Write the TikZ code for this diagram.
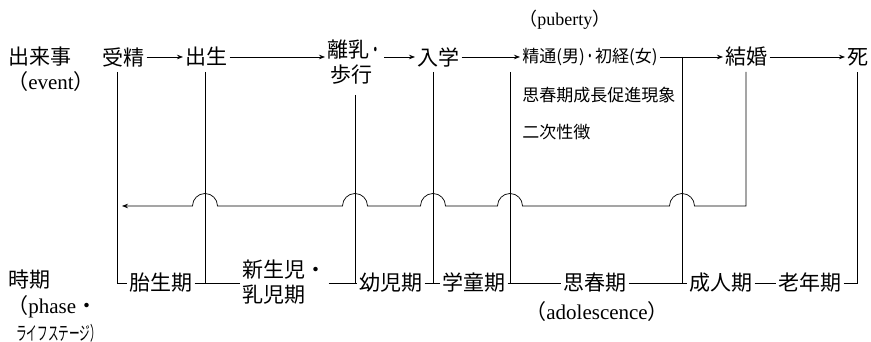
\documentclass[tikz,border=0pt]{standalone}
\usepackage{fontspec}
\usepackage{graphicx}
\setmainfont{Liberation Serif}
\newfontfamily\cjk{Noto Sans CJK JP}
\usetikzlibrary{arrows.meta,calc}
\newcommand\J[1]{{\cjk #1}}
\begin{document}
\begin{tikzpicture}[x=1pt,y=1pt,line width=0.7pt,
  big/.style={font=\fontsize{21}{24}\selectfont\cjk, inner xsep=2pt, inner ysep=0pt, anchor=west},
  mid/.style={font=\fontsize{17}{20}\selectfont\cjk, inner xsep=2pt, inner ysep=0pt, anchor=west},
  lat/.style={font=\fontsize{21}{24}\selectfont, inner sep=0pt, anchor=west},
  arr/.style={-{Stealth[length=6pt,width=4.5pt]}}]
\useasboundingbox (0,0) rectangle (871,342);
% event row
\node[big] (ev) at (6,285) {出来事};
\node[lat] (evn) at (7,260) {\J{（}event\J{）}};
\node[big] (jusei) at (100,285) {受精};
\node[big] (shussei) at (183,285) {出生};
\node[big] (rinyu) at (325,292) {離乳\J{\scalebox{0.6}[1]{・}}};
\node[big] (hoko) at (328,267) {歩行};
\node[big] (nyugaku) at (415,285) {入学};
\node[mid] (seitsu) at (520,285) {精通(男)\scalebox{0.6}[1]{・}初経(女)};
\node[lat, font=\fontsize{18}{20}\selectfont] (pub) at (519,322) {\J{（}puberty\J{）}};
\node[mid] (seicho) at (520,247) {思春期成長促進現象};
\node[mid] (niji) at (520,210) {二次性徴};
\node[big] (kekkon) at (723,285) {結婚};
\node[big] (shi) at (845,285) {死};
% phase row
\node[big] (jiki) at (6,62) {時期};
\node[lat] (phase) at (7,35) {\J{（}phase\J{・}};
\node[lat] (life) at (16,9) {\J{\fontsize{19}{20}\selectfont\scalebox{0.56}[1]{ライフステージ）}}};
\node[big] (taisei) at (127,59) {胎生期};
\node[big] (shinsei) at (240,72) {新生児・};
\node[big] (nyuji) at (240,47) {乳児期};
\node[big] (yoji) at (357,59) {幼児期};
\node[big] (gakudo) at (440,59) {学童期};
\node[big] (shishun) at (561,59) {思春期};
\node[lat] (adol) at (525,30) {\J{（}adolescence\J{）}};
\node[big] (seijin) at (687,59) {成人期};
\node[big] (ronen) at (776,59) {老年期};
% junction coordinates
\coordinate (a1) at (117,270); \coordinate (b1) at (117,59);
\coordinate (a2) at (205,270); \coordinate (b2) at (205,59);
\coordinate (a3) at (355,247); \coordinate (b3) at (355,59);
\coordinate (a4) at (433,270); \coordinate (b4) at (433,59);
\coordinate (a5) at (510,270); \coordinate (b5) at (510,59);
\coordinate (a6) at (682,285); \coordinate (b6) at (682,59);
\coordinate (a7) at (746,270); \coordinate (c7) at (746,136); \coordinate (e7) at (122,136);
\coordinate (a8) at (857,270); \coordinate (b8) at (857,59);
% event arrows
\draw[arr] (jusei) -- (shussei);
\draw[arr] (shussei.east) -- (shussei.east -| rinyu.west);
\draw[arr] (rinyu.east |- nyugaku.west) -- (nyugaku.west);
\draw[arr] (nyugaku) -- (seitsu);
\draw[arr] (seitsu.east) -- (kekkon.west);
\draw[arr] (kekkon) -- (shi);
% verticals and phase line
\draw (a1) -- (b1) -- (taisei.west);
\draw (a2) -- (b2);
\draw (taisei.east) -- (taisei.east -| shinsei.west);
\draw (shinsei.east |- yoji.west) -- (yoji.west);
\draw (a3) -- (b3);
\draw (yoji) -- (gakudo);
\draw (a4) -- (b4);
\draw (gakudo) -- (shishun);
\draw (a5) -- (b5);
\draw (shishun) -- (seijin);
\draw (a6) -- (b6);
\draw (seijin) -- (ronen);
\draw (ronen.east) -- (b8) -- (a8);
% return line with jumps
\draw[arr] (a7) -- (c7) -- (694.5,136) arc[start angle=0,end angle=180,radius=12.5]
  -- (522.5,136) arc[start angle=0,end angle=180,radius=12.5]
  -- (445.5,136) arc[start angle=0,end angle=180,radius=12.5]
  -- (367.5,136) arc[start angle=0,end angle=180,radius=12.5]
  -- (217.5,136) arc[start angle=0,end angle=180,radius=12.5]
  -- (e7);
\end{tikzpicture}
\end{document}
